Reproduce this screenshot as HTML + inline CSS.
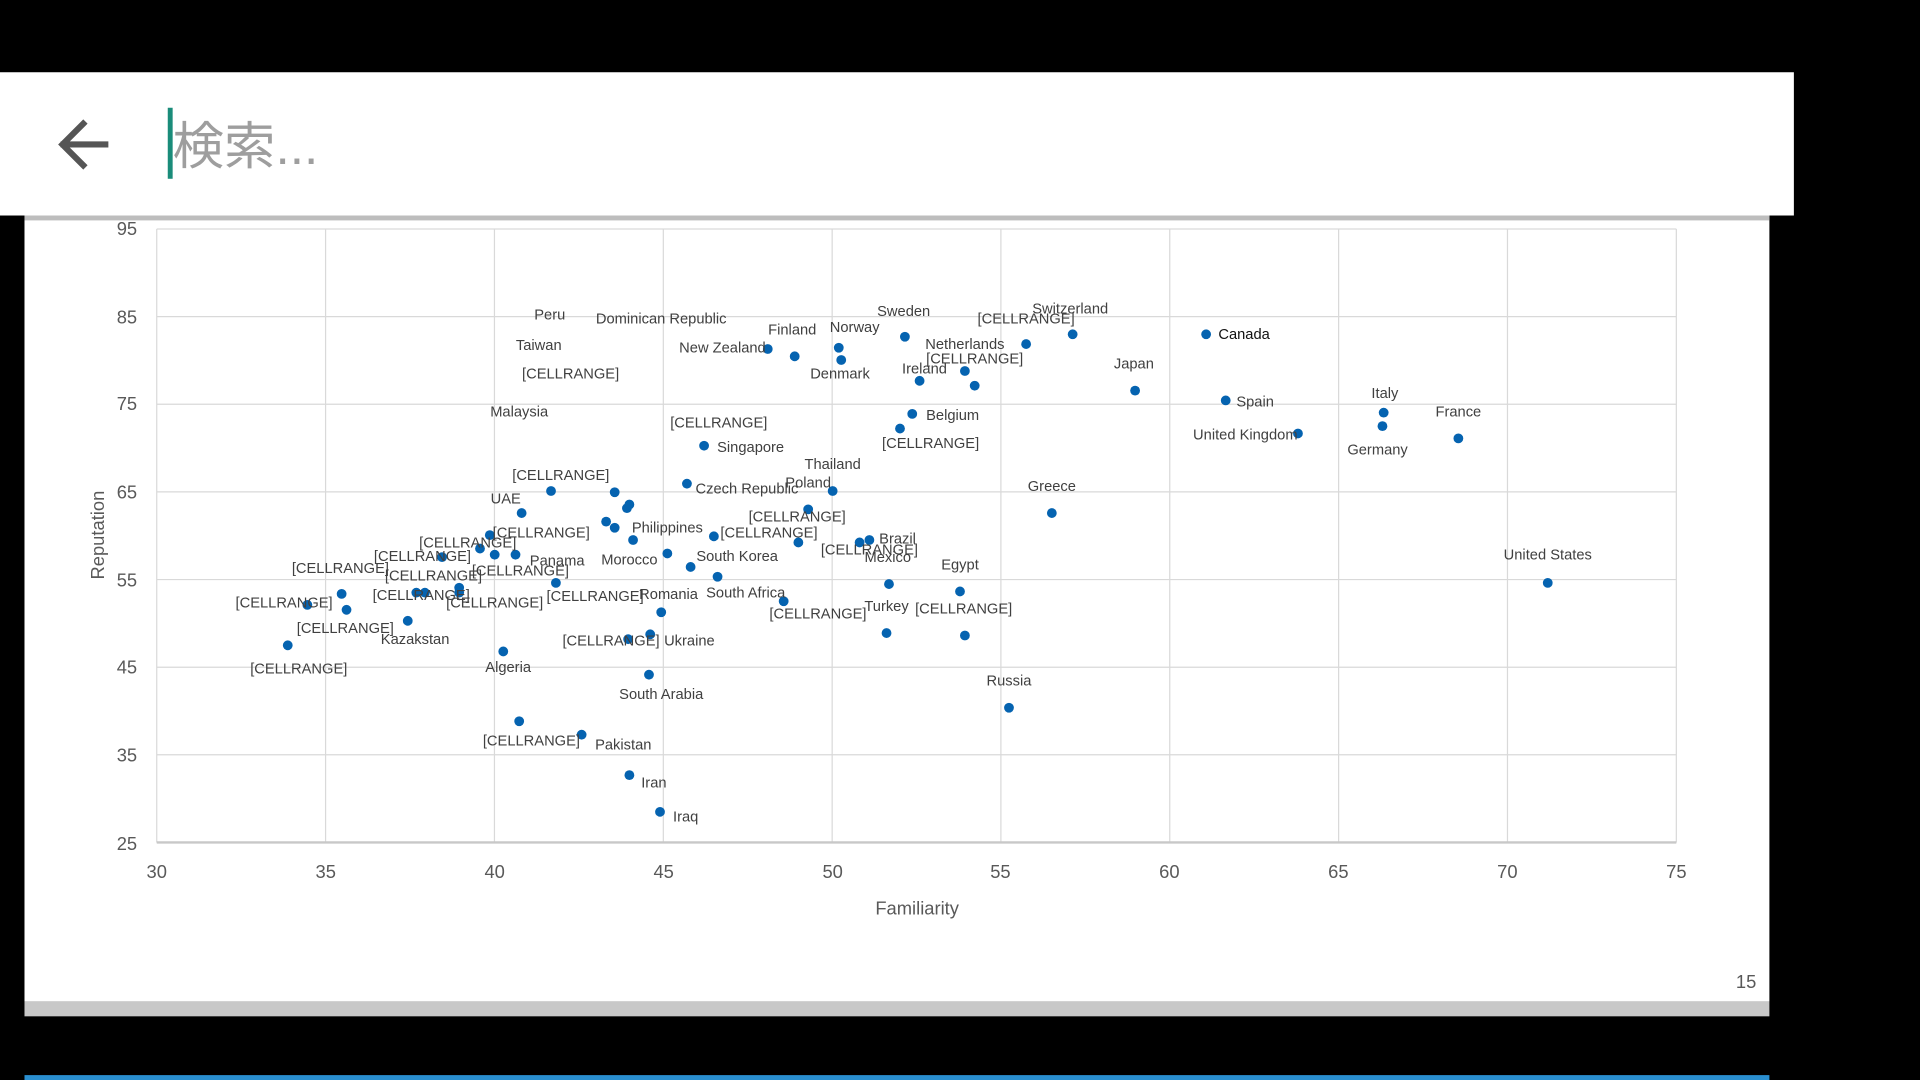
<!DOCTYPE html>
<html><head><meta charset="utf-8"><style>
html,body{margin:0;padding:0;background:#000;overflow:hidden}
svg{display:block}
.l{font-family:"Liberation Sans",sans-serif;font-size:12px;fill:#404040;text-anchor:middle}
.t{font-family:"Liberation Sans",sans-serif;font-size:15px;fill:#595959}
</style></head><body>
<svg width="1920" height="1080" viewBox="0 0 1568 882" xmlns="http://www.w3.org/2000/svg">
<rect x="0" y="0" width="1568" height="882" fill="#000"/>
<rect x="0" y="59" width="1465" height="117" fill="#fff"/>
<path d="M86 118 H52 M68 101 L51 118 L68 135" stroke="#555" stroke-width="5" fill="none" stroke-linecap="square"/>
<rect x="137" y="88" width="4" height="58" fill="#1a8c7a"/>
<text x="141" y="134" font-family="'Liberation Sans','Noto Sans CJK JP',sans-serif" font-size="42" fill="#9e9e9e">検索...</text>
<rect x="20" y="176" width="1425" height="642" fill="#fff"/>
<rect x="20" y="176" width="1425" height="4" fill="#bdbdbd"/>
<rect x="20" y="818" width="1425" height="12" fill="#c8c8c8"/>
<rect x="20" y="878" width="1425" height="4" fill="#2a8fd0"/>
<g stroke="#d9d9d9" stroke-width="1">
<line x1="128" y1="187" x2="1369" y2="187"/><line x1="128" y1="258.6" x2="1369" y2="258.6"/>
<line x1="128" y1="330.1" x2="1369" y2="330.1"/><line x1="128" y1="401.7" x2="1369" y2="401.7"/>
<line x1="128" y1="473.3" x2="1369" y2="473.3"/><line x1="128" y1="544.9" x2="1369" y2="544.9"/>
<line x1="128" y1="616.4" x2="1369" y2="616.4"/>
<line x1="128" y1="187" x2="128" y2="688"/><line x1="265.9" y1="187" x2="265.9" y2="688"/>
<line x1="403.8" y1="187" x2="403.8" y2="688"/><line x1="541.7" y1="187" x2="541.7" y2="688"/>
<line x1="679.6" y1="187" x2="679.6" y2="688"/><line x1="817.4" y1="187" x2="817.4" y2="688"/>
<line x1="955.3" y1="187" x2="955.3" y2="688"/><line x1="1093.2" y1="187" x2="1093.2" y2="688"/>
<line x1="1231.1" y1="187" x2="1231.1" y2="688"/><line x1="1369" y1="187" x2="1369" y2="688"/>
</g>
<line x1="128" y1="688" x2="1369" y2="688" stroke="#c8c8c8" stroke-width="2"/>
<g class="t" text-anchor="end">
<text x="112" y="192">95</text><text x="112" y="264">85</text><text x="112" y="335">75</text>
<text x="112" y="407">65</text><text x="112" y="479">55</text><text x="112" y="550">45</text>
<text x="112" y="622">35</text><text x="112" y="694">25</text></g>
<g class="t" text-anchor="middle">
<text x="128" y="717">30</text><text x="266" y="717">35</text><text x="404" y="717">40</text>
<text x="542" y="717">45</text><text x="680" y="717">50</text><text x="817" y="717">55</text>
<text x="955" y="717">60</text><text x="1093" y="717">65</text><text x="1231" y="717">70</text><text x="1369" y="717">75</text></g>
<text x="749" y="747" class="t" text-anchor="middle" font-size="17">Familiarity</text>
<text transform="translate(85,437) rotate(-90)" class="t" text-anchor="middle" font-size="17">Reputation</text>
<text x="1426" y="807" class="t" text-anchor="middle" font-size="14" fill="#888">15</text>
<g fill="#0563b0">
<circle cx="985" cy="273" r="4"/><circle cx="876" cy="273" r="4"/><circle cx="838" cy="281" r="4"/><circle cx="739" cy="275" r="4"/>
<circle cx="788" cy="303" r="4"/><circle cx="796" cy="315" r="4"/><circle cx="751" cy="311" r="4"/><circle cx="685" cy="284" r="4"/>
<circle cx="687" cy="294" r="4"/><circle cx="649" cy="291" r="4"/><circle cx="627" cy="285" r="4"/><circle cx="927" cy="319" r="4"/>
<circle cx="1001" cy="327" r="4"/><circle cx="1060" cy="354" r="4"/><circle cx="1130" cy="337" r="4"/><circle cx="1129" cy="348" r="4"/>
<circle cx="1191" cy="358" r="4"/><circle cx="745" cy="338" r="4"/><circle cx="735" cy="350" r="4"/><circle cx="575" cy="364" r="4"/>
<circle cx="680" cy="401" r="4"/><circle cx="561" cy="395" r="4"/><circle cx="450" cy="401" r="4"/><circle cx="859" cy="419" r="4"/>
<circle cx="426" cy="419" r="4"/><circle cx="502" cy="402" r="4"/><circle cx="512" cy="415" r="4"/><circle cx="514" cy="412" r="4"/>
<circle cx="495" cy="426" r="4"/><circle cx="502" cy="431" r="4"/><circle cx="517" cy="441" r="4"/><circle cx="660" cy="416" r="4"/>
<circle cx="583" cy="438" r="4"/><circle cx="400" cy="437" r="4"/><circle cx="392" cy="448" r="4"/><circle cx="702" cy="443" r="4"/>
<circle cx="710" cy="441" r="4"/><circle cx="652" cy="443" r="4"/><circle cx="361" cy="455" r="4"/><circle cx="421" cy="453" r="4"/>
<circle cx="404" cy="453" r="4"/><circle cx="545" cy="452" r="4"/><circle cx="564" cy="463" r="4"/><circle cx="726" cy="477" r="4"/>
<circle cx="586" cy="471" r="4"/><circle cx="454" cy="476" r="4"/><circle cx="375" cy="480" r="4"/><circle cx="375" cy="484" r="4"/>
<circle cx="340" cy="484" r="4"/><circle cx="347" cy="484" r="4"/><circle cx="640" cy="491" r="4"/><circle cx="784" cy="483" r="4"/>
<circle cx="279" cy="485" r="4"/><circle cx="251" cy="494" r="4"/><circle cx="283" cy="498" r="4"/><circle cx="333" cy="507" r="4"/>
<circle cx="540" cy="500" r="4"/><circle cx="235" cy="527" r="4"/><circle cx="513" cy="522" r="4"/><circle cx="531" cy="518" r="4"/>
<circle cx="724" cy="517" r="4"/><circle cx="788" cy="519" r="4"/><circle cx="411" cy="532" r="4"/><circle cx="530" cy="551" r="4"/>
<circle cx="824" cy="578" r="4"/><circle cx="424" cy="589" r="4"/><circle cx="475" cy="600" r="4"/><circle cx="514" cy="633" r="4"/>
<circle cx="539" cy="663" r="4"/><circle cx="1264" cy="476" r="4"/></g>
<g class="l">
<text x="1016" y="277" fill="#111" style="fill:#111">Canada</text>
<text x="874" y="256">Switzerland</text><text x="838" y="264">[CELLRANGE]</text><text x="738" y="258">Sweden</text>
<text x="788" y="285">Netherlands</text><text x="796" y="297">[CELLRANGE]</text><text x="755" y="305">Ireland</text>
<text x="698" y="271">Norway</text><text x="686" y="309">Denmark</text><text x="647" y="273">Finland</text>
<text x="590" y="288">New Zealand</text><text x="449" y="261">Peru</text><text x="540" y="264">Dominican Republic</text>
<text x="440" y="286">Taiwan</text><text x="466" y="309">[CELLRANGE]</text><text x="424" y="340">Malaysia</text>
<text x="926" y="301">Japan</text><text x="1025" y="332">Spain</text><text x="1017" y="359">United Kingdom</text>
<text x="1131" y="325">Italy</text><text x="1125" y="371">Germany</text><text x="1191" y="340">France</text>
<text x="778" y="343">Belgium</text><text x="760" y="366">[CELLRANGE]</text><text x="587" y="349">[CELLRANGE]</text>
<text x="613" y="369">Singapore</text><text x="680" y="383">Thailand</text><text x="660" y="398">Poland</text>
<text x="610" y="403">Czech Republic</text><text x="458" y="392">[CELLRANGE]</text><text x="859" y="401">Greece</text>
<text x="413" y="411">UAE</text><text x="651" y="426">[CELLRANGE]</text><text x="442" y="439">[CELLRANGE]</text>
<text x="545" y="435">Philippines</text><text x="628" y="439">[CELLRANGE]</text><text x="382" y="447">[CELLRANGE]</text>
<text x="733" y="444">Brazil</text><text x="710" y="453">[CELLRANGE]</text><text x="725" y="459">Mexico</text>
<text x="345" y="458">[CELLRANGE]</text><text x="455" y="462">Panama</text><text x="514" y="461">Morocco</text>
<text x="602" y="458">South Korea</text><text x="278" y="468">[CELLRANGE]</text><text x="354" y="474">[CELLRANGE]</text>
<text x="425" y="470">[CELLRANGE]</text><text x="784" y="465">Egypt</text><text x="344" y="490">[CELLRANGE]</text>
<text x="404" y="496">[CELLRANGE]</text><text x="486" y="491">[CELLRANGE]</text><text x="546" y="489">Romania</text>
<text x="609" y="488">South Africa</text><text x="668" y="505">[CELLRANGE]</text><text x="724" y="499">Turkey</text>
<text x="787" y="501">[CELLRANGE]</text><text x="232" y="496">[CELLRANGE]</text><text x="282" y="517">[CELLRANGE]</text>
<text x="339" y="526">Kazakstan</text><text x="244" y="550">[CELLRANGE]</text><text x="499" y="527">[CELLRANGE]</text>
<text x="563" y="527">Ukraine</text><text x="415" y="549">Algeria</text><text x="540" y="571">South Arabia</text>
<text x="824" y="560">Russia</text><text x="434" y="609">[CELLRANGE]</text><text x="509" y="612">Pakistan</text>
<text x="534" y="643">Iran</text><text x="560" y="671">Iraq</text><text x="1264" y="457">United States</text>
</g>
</svg>
</body></html>
